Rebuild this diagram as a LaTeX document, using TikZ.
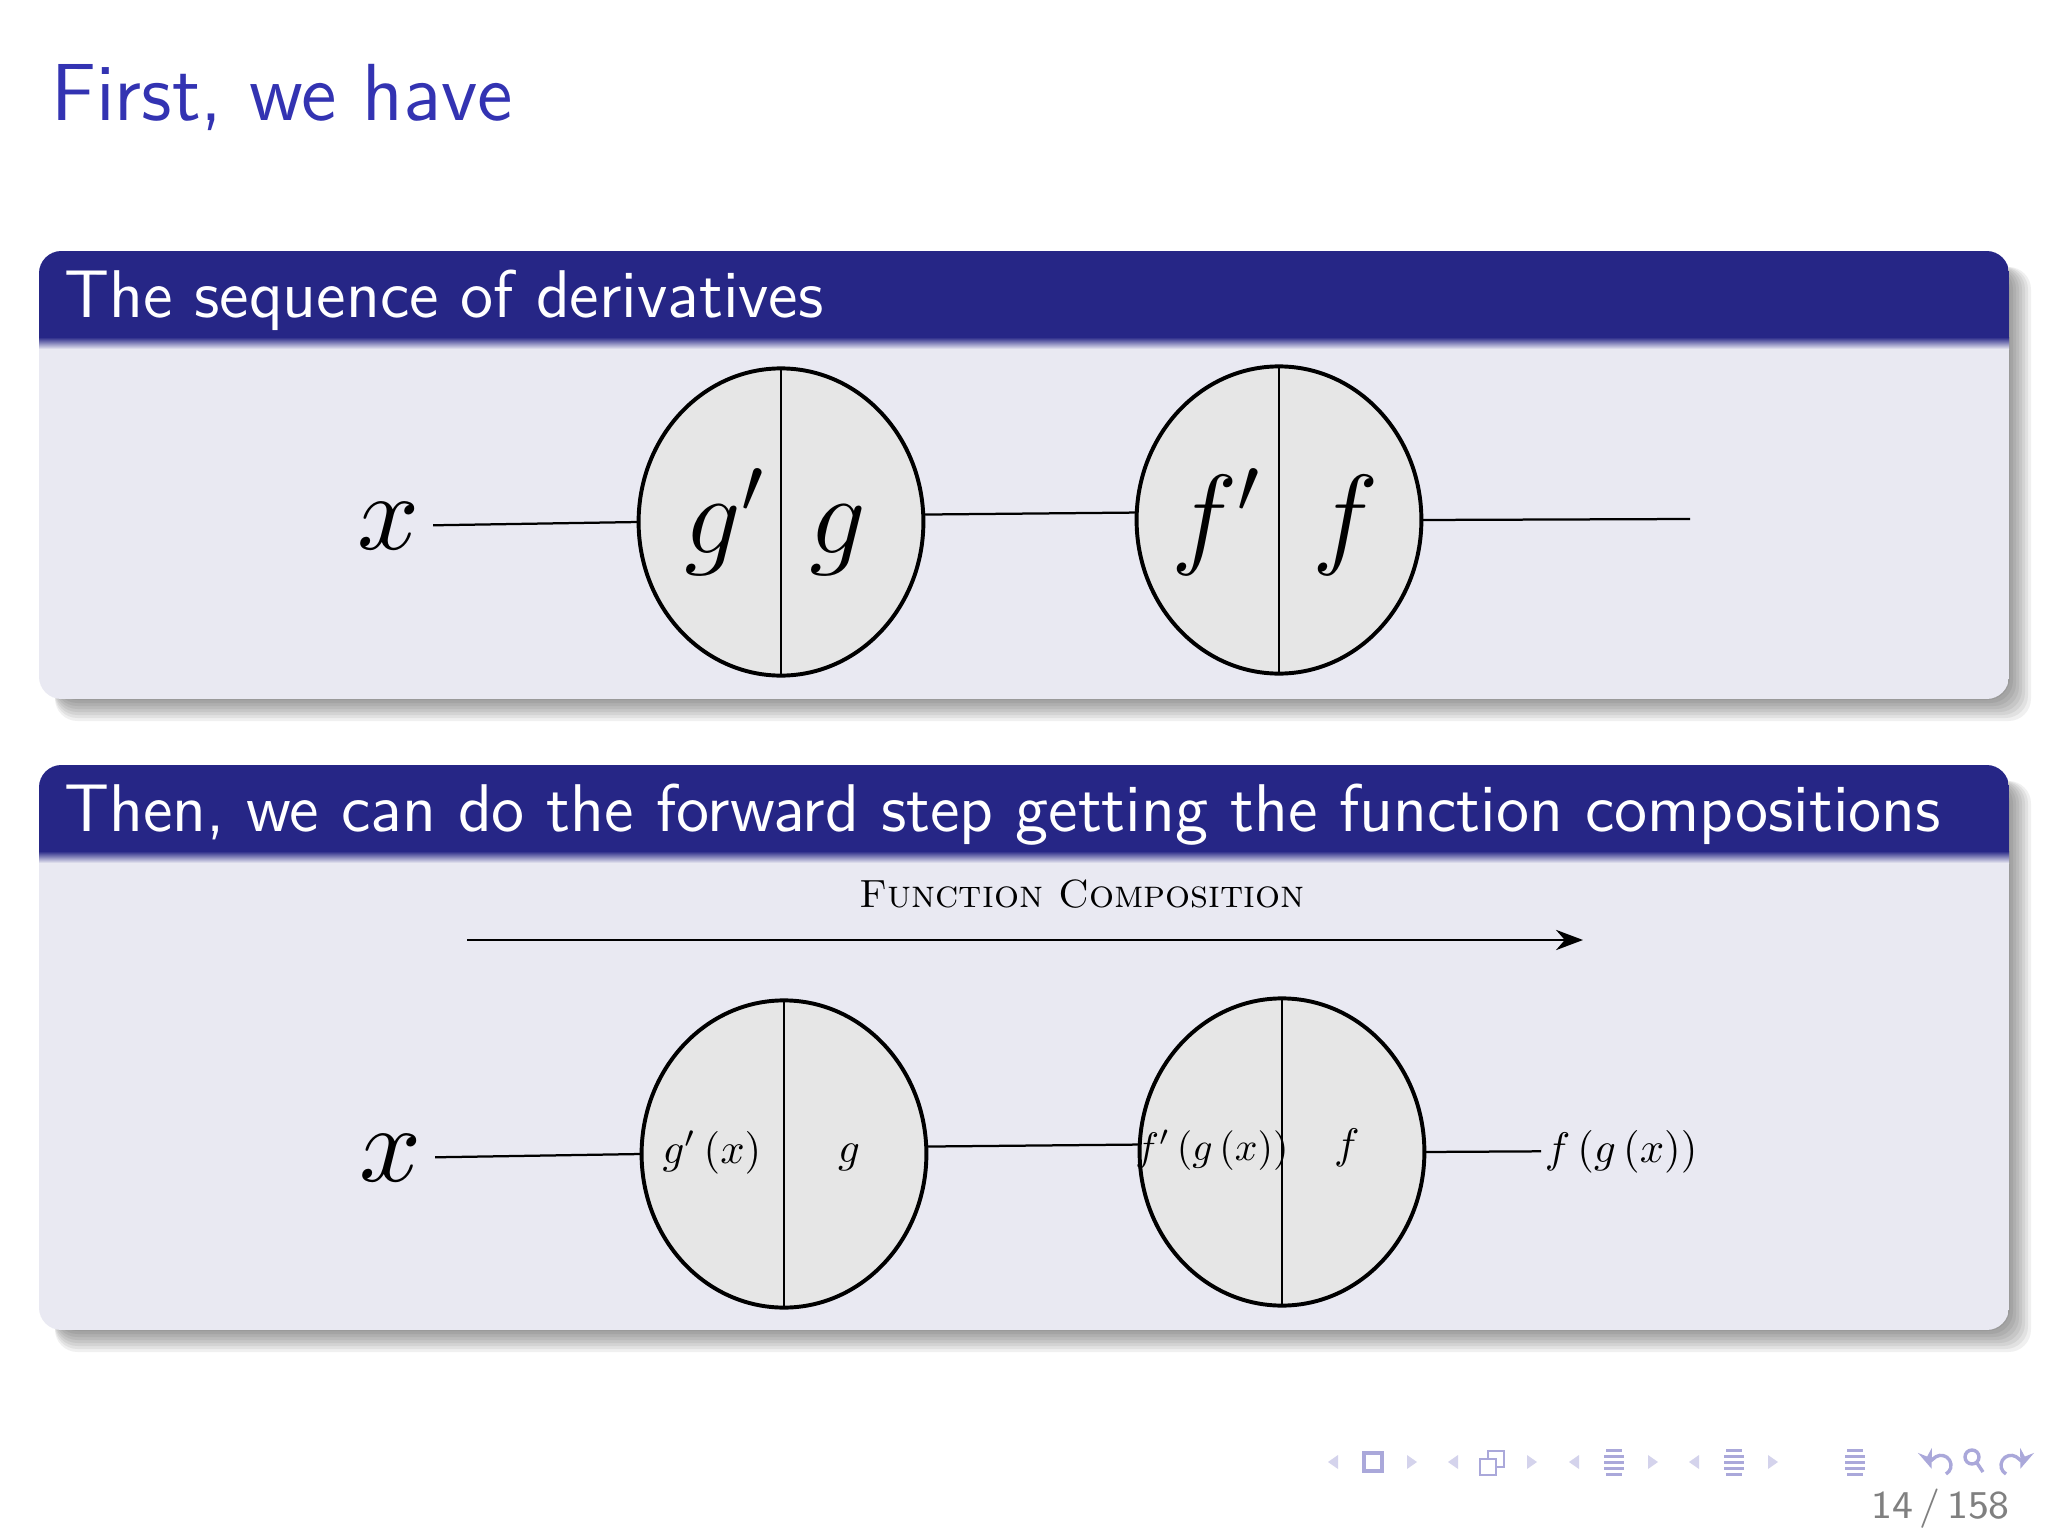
\documentclass[tikz,border=0pt]{standalone}
\usepackage{fix-cm}
\usepackage{amsmath,amssymb}
\usetikzlibrary{shapes.geometric,arrows.meta}
\definecolor{titleblue}{RGB}{51,51,178}
\definecolor{headblue}{RGB}{38,38,134}
\definecolor{bodyblue}{RGB}{233,233,242}
\definecolor{cellgray}{RGB}{230,230,230}
\definecolor{navblue}{RGB}{170,168,218}
\definecolor{navlight}{RGB}{212,211,236}
\def\blockone{(39,251) rectangle (2009,699)}
\def\headone{(39,251) rectangle (2009,337)}
\def\blocktwo{(39,765) rectangle (2009,1330)}
\def\headtwo{(39,765) rectangle (2009,851)}

\begin{document}
\begin{tikzpicture}[x=0.0625mm,y=-0.0625mm,
    cell/.style={ellipse,draw,line width=0.7pt,fill=cellgray,minimum width=17.8mm,minimum height=19.2mm,inner sep=0pt,outer sep=0pt},
    biglbl/.style={anchor=base,inner sep=0pt,font=\fontsize{20}{24}\selectfont},
    lbl/.style={anchor=base,inner sep=0.7pt,scale=0.76},
    inlbl/.style={inner sep=1pt,scale=1.93},
    blocktitle/.style={anchor=base west,inner sep=0pt,text=white,font=\sffamily\fontsize{12}{14}\selectfont}]
    \useasboundingbox (0,0) rectangle (2048,1536);
    \fill[white] (0,0) rectangle (2048,1536);

    \node[anchor=base west,inner sep=0pt,text=titleblue,font=\sffamily\fontsize{14.4}{17}\selectfont] (frametitle) at (50,120) {First, we have};

    %shadows of the blocks
    \foreach \k in {0,...,7}{
        \fill[black,opacity=0.06,rounded corners=1.4mm] (55,267) rectangle ({2031-3*\k},{721-3*\k});
        \fill[black,opacity=0.06,rounded corners=1.4mm] (55,781) rectangle ({2031-3*\k},{1352-3*\k});
    }

    \begin{scope}
        \clip[rounded corners=1.4mm] \blockone;
        \fill[bodyblue] \blockone;
        \fill[headblue] \headone;
        \shade[top color=headblue,bottom color=bodyblue] (39,337) rectangle (2009,349);
    \end{scope}
    \begin{scope}
        \clip[rounded corners=1.4mm] \blocktwo;
        \fill[bodyblue] \blocktwo;
        \fill[headblue] \headtwo;
        \shade[top color=headblue,bottom color=bodyblue] (39,851) rectangle (2009,863);
    \end{scope}

    \node[blocktitle] (headone) at (63,317) {The sequence of derivatives};
    \node[blocktitle] (headtwo) at (63,831) {Then, we can do the forward step getting the function compositions};

    %the sequence of derivatives
    \node[inlbl] (xin) at (389,526) {$x$};
    \node[cell] (gcell) at (781,522) {};
    \node[cell] (fcell) at (1279,520) {};
    \draw (gcell.north) -- (gcell.south);
    \draw (fcell.north) -- (fcell.south);
    \node[biglbl] (gdiff) at (725,553) {$g'$};
    \node[biglbl] (gfun) at (838,553) {$g$};
    \node[biglbl] (fdiff) at (1217,553) {$f'$};
    \node[biglbl] (ffun) at (1346,553) {$f$};
    \coordinate (yout) at (1690,519);
    \draw (xin) -- (gcell.west);
    \draw (gcell.3) -- (fcell.177);
    \draw (fcell.east) -- (yout);

    %the forward step
    \node[anchor=base,inner sep=0pt,font=\rmfamily\fontsize{7}{9}\selectfont\scshape] (fclabel) at (1082,907) {Function Composition};
    \coordinate (arrstart) at (467,940);
    \coordinate (arrend) at (1583,940);
    \draw[-{Stealth}] (arrstart) -- (arrend);

    \node[inlbl] (xinb) at (391,1158) {$x$};
    \node[cell] (gcellb) at (784,1154) {};
    \node[cell] (fcellb) at (1282,1152) {};
    \draw (gcellb.north) -- (gcellb.south);
    \draw (fcellb.north) -- (fcellb.south);
    \node[lbl] (gdx) at (712,1163) {$g'\left(x\right)$};
    \node[lbl] (gfunb) at (849,1162) {$g$};
    \node[lbl,scale=0.93] (fdx) at (1212,1160) {$f'\left(g\left(x\right)\right)$};
    \node[lbl] (ffunb) at (1347,1158) {$f$};
    \node[lbl,anchor=base west] (fgx) at (1541,1162) {$f\left(g\left(x\right)\right)$};
    \draw (xinb) -- (gcellb.west);
    \draw (gcellb.3) -- (fcellb.177);
    \draw (fcellb.east) -- (fgx.west);

    %navigation symbols
    \foreach \p in {1333,1453,1574,1694}
        \fill[navlight] (\p+5,1455) -- (\p-5,1462) -- (\p+5,1469) -- cycle;
    \foreach \p in {1412,1532,1653,1773}
        \fill[navlight] (\p-5,1455) -- (\p+5,1462) -- (\p-5,1469) -- cycle;
    \draw[navblue,line width=0.6pt] (1364,1453) rectangle (1382,1471);
    \foreach \d in {8,0}
        \filldraw[navblue,fill=white,line width=0.5pt] (1480+\d,1459-\d) rectangle (1496+\d,1475-\d);
    \foreach \c in {1614,1734,1855}
        \foreach \dy/\w in {-12/8,-6/10,0/10,6/10,12/8}
            \fill[navblue] (\c-\w,1462+\dy-1.5) rectangle (\c+\w,1462+\dy+1.5);
    \draw[navblue,line width=0.6pt,-{Stealth[length=1.2mm]}] (1946,1474) arc[start angle=60,end angle=-200,radius=10];
    \draw[navblue,line width=0.6pt] (1972,1457) circle[radius=7] (1977,1463) -- (1983,1472);
    \draw[navblue,line width=0.6pt,-{Stealth[length=1.2mm]}] (2006,1474) arc[start angle=120,end angle=380,radius=10];

    \node[anchor=base east,inner sep=0pt,text=gray,font=\sffamily\fontsize{7}{8}\selectfont] (pageno) at (2011,1518) {14\,/\,158};
\end{tikzpicture}
\end{document}
